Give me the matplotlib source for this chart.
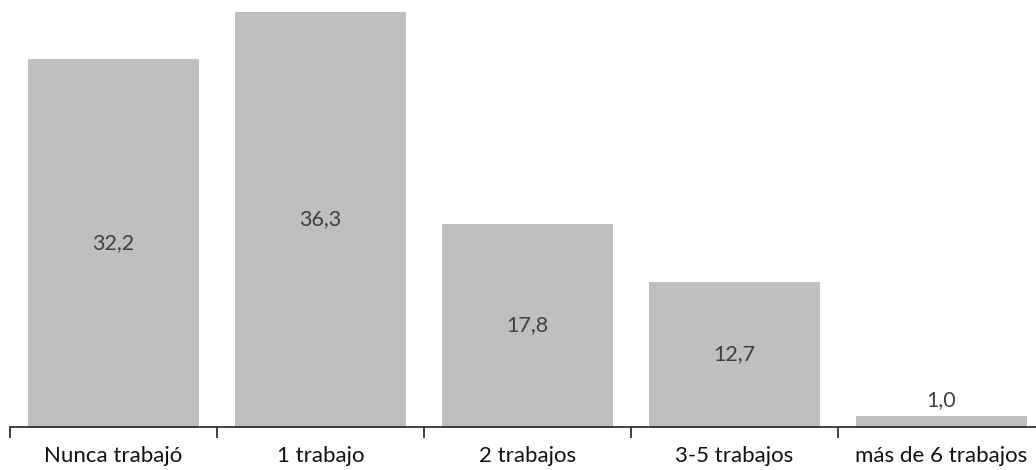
import matplotlib
matplotlib.use("Agg")
import matplotlib.pyplot as plt

categories = ["Nunca trabajó", "1 trabajo", "2 trabajos", "3-5 trabajos", "más de 6 trabajos"]
values = [32.2, 36.3, 17.8, 12.7, 1.0]
value_labels = ["32,2", "36,3", "17,8", "12,7", "1,0"]

plt.rcParams["font.family"] = ["Lato", "DejaVu Sans"]

fig = plt.figure(figsize=(10.36, 4.70), dpi=100)
ax = fig.add_axes([10 / 1036, 43 / 470, 1035 / 1036, 427 / 470])

x = list(range(len(categories)))
bars = ax.bar(x, values, width=0.83, color="#bfbfbf", edgecolor="none")

ax.set_xlim(-0.5, len(categories) - 0.5)
ax.set_ylim(0, 37.36)

for xi, v, lab in zip(x, values, value_labels):
    if v > 5:
        ax.text(xi, v / 2, lab, ha="center", va="center", fontsize=15.5, color="#404040")
    else:
        ax.text(xi, v + 0.45, lab, ha="center", va="bottom", fontsize=15.5, color="#404040")

# category boundaries as major ticks, names as minor ticks
ax.set_xticks([i - 0.5 for i in range(len(categories) + 1)])
ax.set_xticklabels([])
ax.set_xticks(x, minor=True)
ax.set_xticklabels(categories, minor=True, fontsize=16, color="#111111")
ax.tick_params(axis="x", which="major", length=8, width=1.2, color="#222222", direction="out")
ax.tick_params(axis="x", which="minor", length=0, pad=14)

ax.set_yticks([])
for side in ("top", "right", "left"):
    ax.spines[side].set_visible(False)
ax.spines["bottom"].set_color("#222222")
ax.spines["bottom"].set_linewidth(1.2)

fig.savefig("out.png", dpi=100)
